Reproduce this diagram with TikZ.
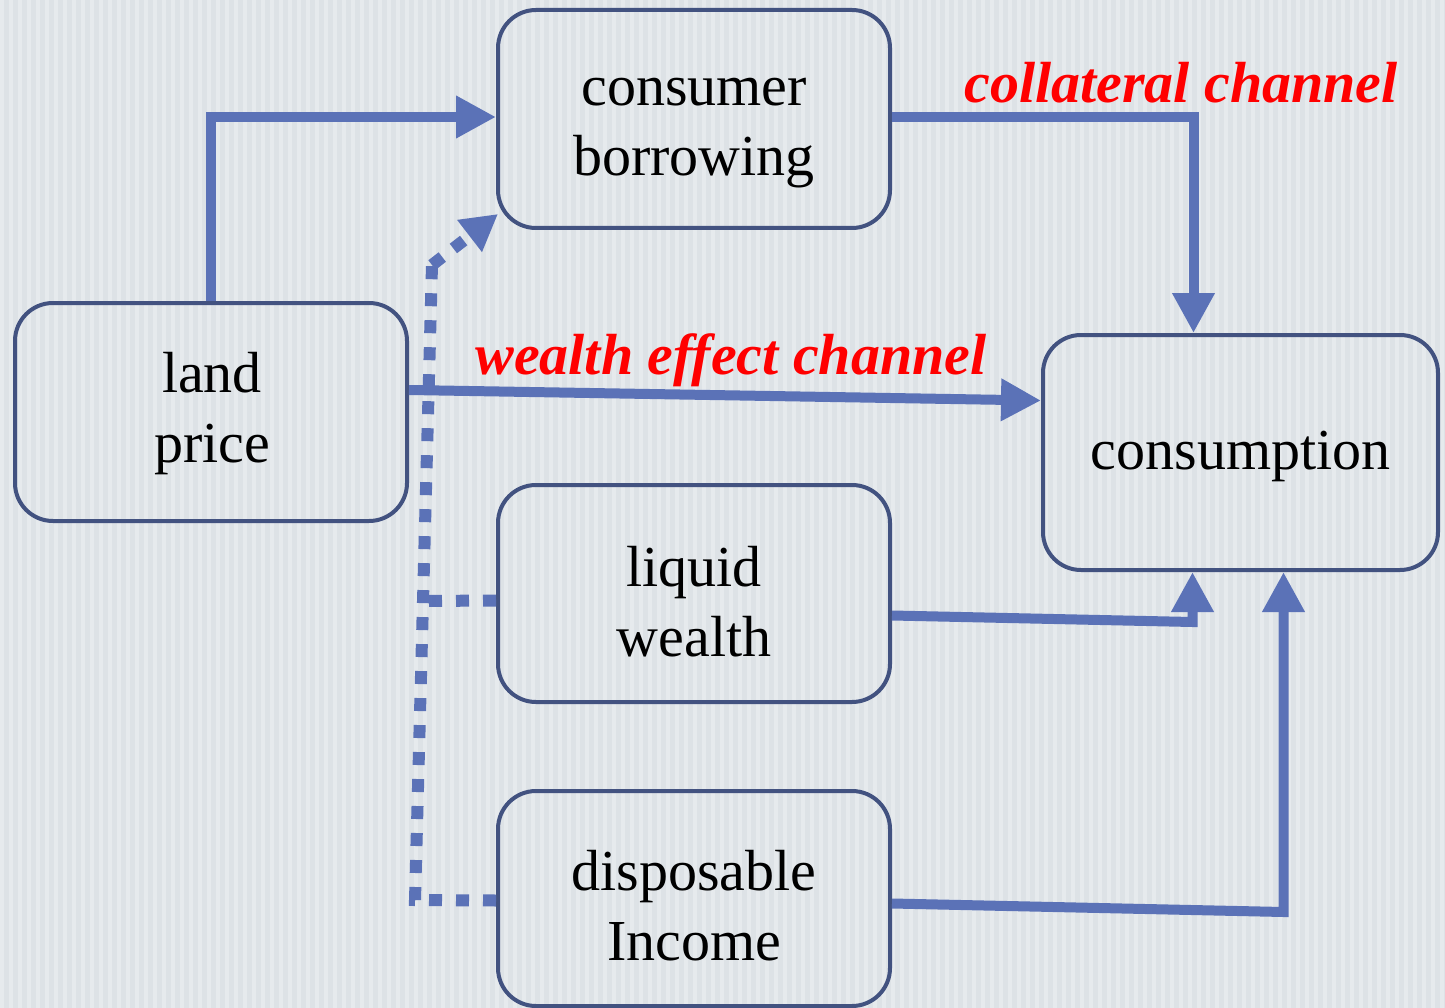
\documentclass[tikz,border=0pt]{standalone}
\usepackage{fontspec}
\setmainfont{Liberation Serif}
\usetikzlibrary{arrows.meta,calc}
\definecolor{bgc}{RGB}{221,226,230}
\definecolor{stripec}{RGB}{230,234,237}
\definecolor{boxc}{RGB}{66,82,128}
\definecolor{arrc}{RGB}{91,114,183}
\begin{document}
\begin{tikzpicture}[x=1pt,y=-1pt,
  box/.style={draw=boxc,line width=4pt,rounded corners=38pt,minimum width=392pt,minimum height=218pt,inner sep=0pt},
  txt/.style={align=center,font=\fontsize{58}{70}\selectfont,inner sep=0pt},
  arr/.style={draw=arrc,line width=10pt,-{Triangle[length=40pt,width=40pt]}},
  dotarr/.style={draw=arrc,line width=12pt,dash pattern=on 13pt off 14pt},
  lab/.style={text=red,font=\fontsize{58}{70}\selectfont\bfseries\itshape,inner sep=0pt}]
\fill[bgc] (0,0) rectangle (1445,1008);
\foreach \i in {0,...,160} {\fill[stripec] (\i*9,0) rectangle ++(4,1008);}
\useasboundingbox (0,0) rectangle (1445,1008);
\node[box] (land) at (211,412) {};
\node[box] (borrow) at (694,119) {};
\node[box,minimum width=395pt,minimum height=235pt] (cons) at (1240.5,452.5) {};
\node[box,minimum height=217pt] (liquid) at (694,593.5) {};
\node[box,minimum height=215pt] (disp) at (694,898.5) {};
\node[txt] (landT) at (212,414) {land\\price};
\node[txt] (borrowT) at (694,133) {consumer\\borrowing};
\node[txt] (consT) at (1240.5,456.5) {consumption};
\node[txt] (liquidT) at (694,601.5) {liquid\\wealth};
\node[txt] (dispT) at (694,905.5) {disposable\\Income};
\node[lab] (coll) at (1181,83) {collateral channel};
\node[lab] (wealth) at (731,360) {wealth effect channel};
% dotted connectors
\draw[dotarr] ([yshift=-2pt]disp.west) -- (415,900) -- (432,265);
\draw[dotarr] ([yshift=-7pt]liquid.west) -- (423,601);
\draw[draw=arrc,line width=12pt,dash pattern=on 13pt off 14pt,-{Triangle[length=36pt,width=38pt]}] (432,265) -- ([yshift=16pt,xshift=2pt]borrow.south west);
% solid connectors
\draw[arr] (land.north) |- ([yshift=2pt]borrow.west);
\draw[arr] ([yshift=2pt]borrow.east) -| ([xshift=-47pt]cons.north);
\draw[arr] ([yshift=22pt]land.east) -- ([yshift=52pt]cons.west);
\draw[arr] ([yshift=-22pt]liquid.east) -- ([xshift=-48pt,yshift=-50pt]cons.south) -- ([xshift=-48pt]cons.south);
\draw[arr] ([yshift=-5pt]disp.east) -- ([xshift=43pt,yshift=-340pt]cons.south) -- ([xshift=43pt]cons.south);
\end{tikzpicture}
\end{document}
